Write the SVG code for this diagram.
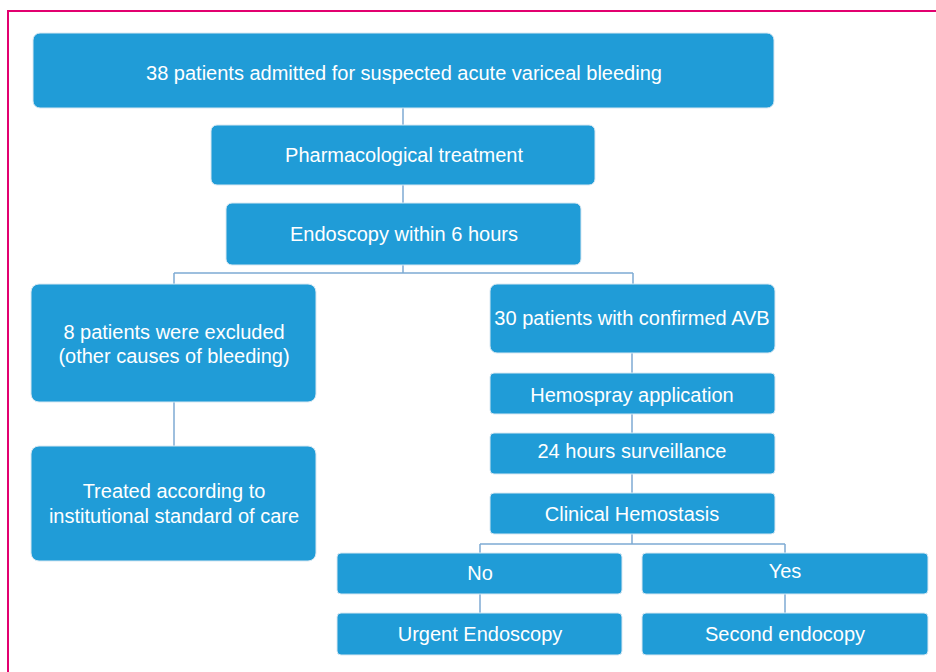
<svg xmlns="http://www.w3.org/2000/svg" width="936" height="672" viewBox="0 0 936 672">
<style>
.box{fill:#209cd7;stroke:#d8e8f2;stroke-width:1}
.t{fill:#ffffff;font-family:"Liberation Sans",Arial,sans-serif;font-size:20px;text-anchor:middle;dominant-baseline:central}
.c{fill:none;stroke:#7eaad3;stroke-width:1.5}
</style>
<rect x="0" y="0" width="936" height="672" fill="#ffffff"/>
<path d="M8 672 V11 H936" fill="none" stroke="#e2006f" stroke-width="2"/>
<g id="connectors">
<path class="c" d="M403 108 V125"/>
<path class="c" d="M403 185 V203"/>
<path class="c" d="M403 265 V273 M174 273 H633 M174 273 V284 M633 273 V284"/>
<path class="c" d="M174 402 V446"/>
<path class="c" d="M632 353 V373"/>
<path class="c" d="M632 414 V433"/>
<path class="c" d="M632 474 V493"/>
<path class="c" d="M632 534 V544 M480 544 H785 M480 544 V553 M785 544 V553"/>
<path class="c" d="M480 594 V613"/>
<path class="c" d="M785 594 V613"/>
</g>
<g id="n1"><rect class="box" x="33" y="33" width="741" height="75" rx="7"/><text class="t" x="404" y="73">38 patients admitted for suspected acute variceal bleeding</text></g>
<g id="n2"><rect class="box" x="211" y="125" width="384" height="60" rx="6"/><text class="t" x="404" y="155">Pharmacological treatment</text></g>
<g id="n3"><rect class="box" x="226" y="203" width="355" height="62" rx="6"/><text class="t" x="404" y="234">Endoscopy within 6 hours</text></g>
<g id="n4"><rect class="box" x="31" y="284" width="285" height="118" rx="8"/><text class="t" x="174" y="332">8 patients were excluded</text><text class="t" x="174" y="356">(other causes of bleeding)</text></g>
<g id="n5"><rect class="box" x="490" y="284" width="285" height="69" rx="7"/><text class="t" x="632" y="318">30 patients with confirmed AVB</text></g>
<g id="n6"><rect class="box" x="31" y="446" width="285" height="115" rx="8"/><text class="t" x="174" y="491">Treated according to</text><text class="t" x="174" y="516">institutional standard of care</text></g>
<g id="n7"><rect class="box" x="490" y="373" width="285" height="41" rx="4"/><text class="t" x="632" y="395">Hemospray application</text></g>
<g id="n8"><rect class="box" x="490" y="433" width="285" height="41" rx="4"/><text class="t" x="632" y="451">24 hours surveillance</text></g>
<g id="n9"><rect class="box" x="490" y="493" width="285" height="41" rx="4"/><text class="t" x="632" y="514">Clinical Hemostasis</text></g>
<g id="n10"><rect class="box" x="337" y="553" width="285" height="41" rx="4"/><text class="t" x="480" y="573">No</text></g>
<g id="n11"><rect class="box" x="642" y="553" width="286" height="41" rx="4"/><text class="t" x="785" y="571">Yes</text></g>
<g id="n12"><rect class="box" x="337" y="613" width="285" height="42" rx="4"/><text class="t" x="480" y="634">Urgent Endoscopy</text></g>
<g id="n13"><rect class="box" x="642" y="613" width="286" height="42" rx="4"/><text class="t" x="785" y="634">Second endocopy</text></g>
</svg>
